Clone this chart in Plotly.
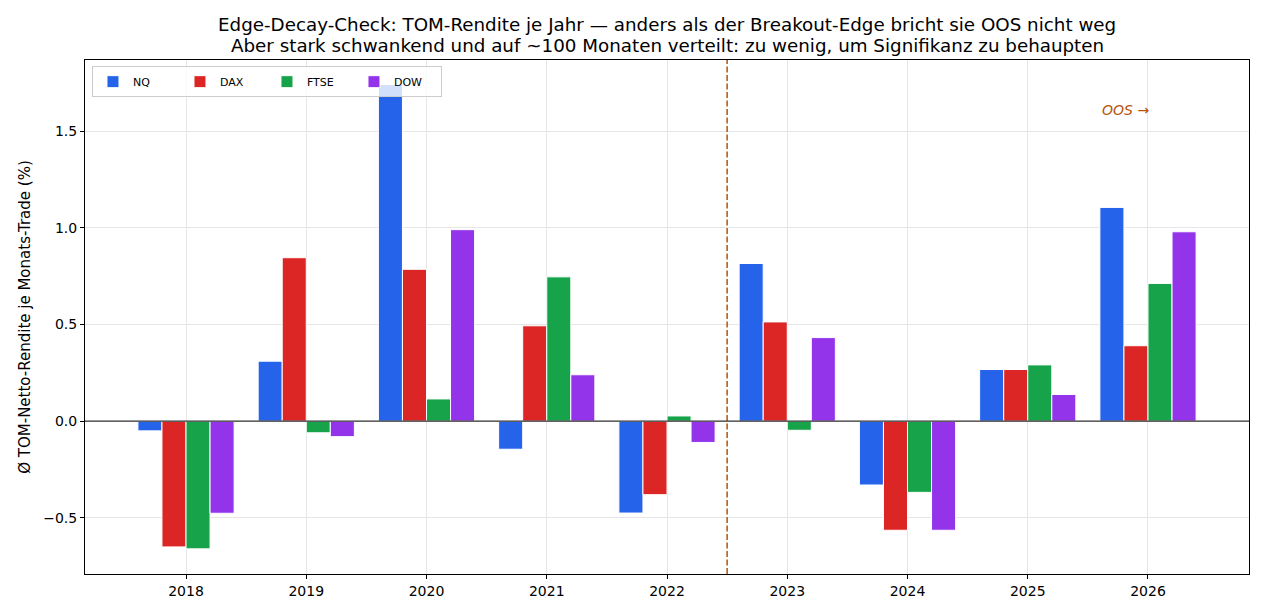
import plotly.graph_objects as go

years = [2018, 2019, 2020, 2021, 2022, 2023, 2024, 2025, 2026]
tick_labels = [str(y) for y in years]
nq = [-0.05, 0.31, 1.74, -0.145, -0.475, 0.815, -0.33, 0.267, 1.105]
dax = [-0.65, 0.845, 0.785, 0.493, -0.38, 0.513, -0.564, 0.267, 0.39]
ftse = [-0.66, -0.06, 0.115, 0.746, 0.027, -0.047, -0.368, 0.291, 0.712]
dow = [-0.476, -0.08, 0.99, 0.24, -0.11, 0.432, -0.564, 0.138, 0.979]

series_names = ["NQ", "DAX", "FTSE", "DOW"]
series_values = [nq, dax, ftse, dow]
colors = ["#2563eb", "#dc2626", "#16a34a", "#9333ea"]

title_lines = [
    "Edge-Decay-Check: TOM-Rendite je Jahr — anders als der Breakout-Edge bricht sie OOS nicht weg",
    "Aber stark schwankend und auf ~100 Monaten verteilt: zu wenig, um Signifikanz zu behaupten",
]

oos_split = 2022.5
oos_label = "OOS →"
oos_pos = (2025.81, 1.61)

fig = go.Figure()
w = 0.2
for i, (name, vals, c) in enumerate(zip(series_names, series_values, colors)):
    fig.add_trace(go.Bar(
        x=years, y=vals, name=name, width=w, offset=-0.4 + i * w,
        marker=dict(color=c, line=dict(color="white", width=1)),
    ))

fig.add_shape(type="line", x0=oos_split, x1=oos_split, y0=0, y1=1, yref="paper",
              line=dict(color="#b45309", width=1.5, dash="6px,2.5px"))
fig.add_shape(type="line", x0=0, x1=1, xref="paper", y0=0, y1=0,
              line=dict(color="#333333", width=1.2))
fig.add_annotation(x=oos_pos[0], y=oos_pos[1], text="<i>" + oos_label + "</i>", showarrow=False,
                   font=dict(color="#b45309", size=14, family="DejaVu Sans"),
                   xanchor="center", yanchor="middle")
for line, shift in zip(title_lines, [36, 15]):
    fig.add_annotation(x=0.5, xref="paper", y=1, yref="paper", text=line, showarrow=False,
                       xanchor="center", yanchor="middle", yshift=shift,
                       font=dict(size=18.3, family="DejaVu Sans", color="black"))

fig.update_layout(
    width=1265, height=616,
    margin=dict(l=85, r=16, t=60, b=42),
    paper_bgcolor="white", plot_bgcolor="white",
    barmode="overlay",
    font=dict(family="DejaVu Sans", size=14, color="black"),
    legend=dict(orientation="h", x=0.006, y=0.988, xanchor="left", yanchor="top",
                bgcolor="rgba(255,255,255,0.8)", bordercolor="#cccccc", borderwidth=1,
                font=dict(size=11), entrywidth=42, entrywidthmode="pixels", traceorder="normal"),
    showlegend=True,
)
fig.update_xaxes(range=[2017.16, 2026.84], tickmode="array", tickvals=years, ticktext=tick_labels,
                 showgrid=True, gridcolor="#e6e6e6", gridwidth=1,
                 showline=True, linecolor="black", linewidth=1, mirror=True,
                 ticks="outside", ticklen=4, tickcolor="black", zeroline=False,
                 tickfont=dict(size=14))
fig.update_yaxes(range=[-0.79, 1.867], tickmode="array", tickvals=[-0.5, 0, 0.5, 1.0, 1.5],
                 ticktext=["−0.5", "0.0", "0.5", "1.0", "1.5"],
                 showgrid=True, gridcolor="#e6e6e6", gridwidth=1,
                 showline=True, linecolor="black", linewidth=1, mirror=True,
                 ticks="outside", ticklen=4, tickcolor="black", zeroline=False,
                 tickfont=dict(size=14),
                 title=dict(text="Ø TOM-Netto-Rendite je Monats-Trade (%)", font=dict(size=15), standoff=8))

fig.write_html("out.html")
